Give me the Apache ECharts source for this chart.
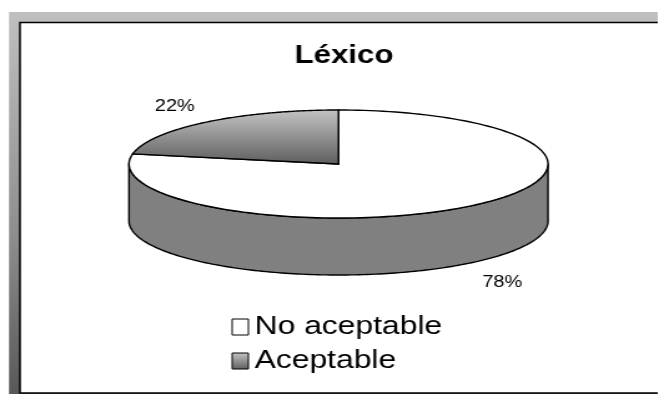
<!DOCTYPE html>
<html><head><meta charset="utf-8">
<script src="https://cdn.jsdelivr.net/npm/echarts@6/dist/echarts.min.js"></script>
<style>
html,body{margin:0;padding:0;background:#fff;overflow:hidden;width:659px;height:394px}
#wrap{width:659px;height:394px;overflow:hidden;position:absolute;left:0;top:0}
#chart{width:528px;height:394px;transform:scaleX(1.248106);transform-origin:0 0}
</style>
</head><body><div id="wrap"><div id="chart"></div></div>
<script>
// ---- data ----
const chartTitle = 'Léxico';
const categories = ['No aceptable', 'Aceptable'];
const values = [78, 22];

// ---- geometry (in unstretched coordinates) ----
const SX = 1.248106;
const CX = 338.5 / SX, CY = 164, RX = 209.5 / SX, RY = 54, DEPTH = 57;
const FONT = "'Liberation Sans', Arial, sans-serif";

const grayGrad = new echarts.graphic.LinearGradient(0, 0, 0, 1, [
  {offset: 0, color: '#c4c4c4'}, {offset: 1, color: '#5e5e5e'}
]);
const sliceFill = ['#ffffff', grayGrad];

function pt(t, dy) { return [CX + RX * Math.cos(t), CY - RY * Math.sin(t) + (dy || 0)]; }

function makeRender(idx) {
  return function (params, api) {
    const total = values.reduce((a, b) => a + b, 0);
    let before = 0;
    for (let k = 0; k < idx; k++) before += values[k];
    const v = api.value(0);
    const aStart = Math.PI / 2 - before / total * 2 * Math.PI;
    const aEnd = aStart - v / total * 2 * Math.PI;
    const children = [];
    const N = 160;
    for (let k = -2; k <= 2; k++) {
      const lo = Math.max(aEnd, Math.PI + 2 * Math.PI * k);
      const hi = Math.min(aStart, 2 * Math.PI + 2 * Math.PI * k);
      if (lo < hi) {
        const pts = [];
        for (let i = 0; i <= N; i++) pts.push(pt(lo + (hi - lo) * i / N, DEPTH));
        for (let i = N; i >= 0; i--) pts.push(pt(lo + (hi - lo) * i / N, 0));
        children.push({type: 'polygon', shape: {points: pts}, z2: 1,
          style: {fill: '#808080', stroke: '#000', lineWidth: 1.4, lineJoin: 'round'}});
      }
    }
    const top = [[CX, CY]];
    for (let i = 0; i <= N; i++) top.push(pt(aStart + (aEnd - aStart) * i / N, 0));
    children.push({type: 'polygon', shape: {points: top}, z2: 5,
      style: {fill: sliceFill[idx], stroke: '#000', lineWidth: 1.4, lineJoin: 'miter'}});
    const mid = (aStart + aEnd) / 2;
    const s = Math.sin(mid);
    const lx = CX + (RX + 38) * Math.cos(mid);
    const ly = CY - (RY + 21) * s + (s < 0 ? DEPTH + 4 : 0);
    children.push({type: 'text', z2: 10, style: {
      text: Math.round(v / total * 100) + '%', x: lx, y: ly,
      align: 'center', verticalAlign: 'middle',
      font: '16px ' + FONT, fill: '#000'}});
    return {type: 'group', children: children};
  };
}

const W = 528;
const chart = echarts.init(document.getElementById('chart'), null, {renderer: 'canvas', width: 528, height: 394});
chart.setOption({
  animation: false,
  backgroundColor: '#ffffff',
  graphic: [
    {type: 'rect', z: 0, shape: {x: 7.2, y: 12, width: W - 7.2 - 1, height: 394 - 12},
      style: {fill: new echarts.graphic.LinearGradient(0, 0, 0, 1, [
        {offset: 0, color: '#c0c0c0'}, {offset: 0.6, color: '#8c8c8c'}, {offset: 1, color: '#585858'}])}},
    {type: 'rect', z: 1, shape: {x: 16, y: 22.5, width: W - 16, height: 370.5},
      style: {fill: '#ffffff'}},
    {type: 'polyline', z: 2, shape: {points: [[W - 1, 22.5], [16, 22.5], [16, 393], [W - 1, 393]]},
      style: {stroke: '#000', lineWidth: 1.5, fill: null}}
  ],
  title: {
    text: chartTitle, left: 231, top: 39,
    textStyle: {fontFamily: FONT, fontSize: 25, fontWeight: 'bold', color: '#000'}
  },
  legend: {
    data: categories, orient: 'vertical', left: 185.5, top: 314, padding: 0,
    itemWidth: 13, itemHeight: 16, itemGap: 8, icon: 'rect', selectedMode: false,
    itemStyle: {borderColor: '#000', borderWidth: 1},
    textStyle: {fontFamily: FONT, fontSize: 25.5, color: '#000'}
  },
  series: categories.map((name, i) => ({
    type: 'custom', name: name, coordinateSystem: 'none',
    itemStyle: {color: sliceFill[i], borderColor: '#000', borderWidth: 1},
    renderItem: makeRender(i),
    data: [values[i]]
  }))
});
</script></body></html>
